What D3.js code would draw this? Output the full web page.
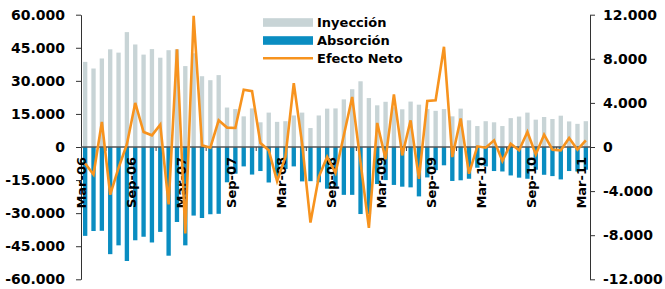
<!DOCTYPE html>
<html><head><meta charset="utf-8">
<script src="https://cdn.jsdelivr.net/npm/d3@7"></script>
<style>body{margin:0;background:#fff}svg{display:block}</style>
</head><body>
<svg id="chart" width="665" height="289"></svg>
<script>
const months = [
 "Mar-06","Abr-06","May-06","Jun-06","Jul-06","Ago-06","Sep-06","Oct-06","Nov-06","Dic-06","Ene-07","Feb-07",
 "Mar-07","Abr-07","May-07","Jun-07","Jul-07","Ago-07","Sep-07","Oct-07","Nov-07","Dic-07","Ene-08","Feb-08",
 "Mar-08","Abr-08","May-08","Jun-08","Jul-08","Ago-08","Sep-08","Oct-08","Nov-08","Dic-08","Ene-09","Feb-09",
 "Mar-09","Abr-09","May-09","Jun-09","Jul-09","Ago-09","Sep-09","Oct-09","Nov-09","Dic-09","Ene-10","Feb-10",
 "Mar-10","Abr-10","May-10","Jun-10","Jul-10","Ago-10","Sep-10","Oct-10","Nov-10","Dic-10","Ene-11","Feb-11",
 "Mar-11"];
const inyeccion = [
 38600,35600,40150,44300,42800,52100,46500,41900,44400,40500,43900,44300,
 36700,42500,32100,30300,32600,17900,17200,13900,17500,11200,15600,11400,
 11700,14300,15600,8600,14300,17400,17500,21600,26200,29800,22200,18900,
 20500,18000,17100,20600,19200,17200,16400,17200,13900,17400,12100,9500,
 11700,11200,9500,13100,13800,15600,12400,13600,12700,14200,11600,10500,
 11700];
const absorcion = [
 -40300,-38100,-38000,-48600,-44600,-51700,-42300,-40700,-43300,-38500,-49300,-34000,
 -44600,-31100,-32200,-30500,-30300,-16000,-12100,-8800,-12500,-10900,-16100,-14000,
 -10000,-8800,-15600,-15500,-16000,-18900,-18000,-21700,-21700,-30400,-30400,-16800,
 -15000,-17200,-18000,-18300,-22400,-13800,-10500,-8300,-15400,-15100,-14400,-9400,
 -8800,-10900,-11100,-12900,-13900,-14400,-10300,-12600,-13200,-14700,-10900,-11100,
 -10300];
const efectoNeto = [
 -1500,-2500,2270,-4330,-1900,250,4000,1360,1060,2030,-5200,8850,
 -7850,11900,150,-60,2420,1760,1730,5200,5060,360,-300,-3100,
 -900,5800,300,-6850,-2700,-900,-2350,1060,4540,-1400,-7330,2180,
 -1100,4760,-760,2420,-2880,4180,4240,9090,-910,2580,-2420,60,
 -60,600,-1270,300,-300,1360,-670,1120,-240,-300,820,-240,
 600];
const xTickLabels = ["Mar-06","Sep-06","Mar-07","Sep-07","Mar-08","Sep-08","Mar-09","Sep-09","Mar-10","Sep-10","Mar-11"];
const leftTicks = [60000,45000,30000,15000,0,-15000,-30000,-45000,-60000];
const rightTicks = [12000,8000,4000,0,-4000,-8000,-12000];
const seriesNames = ["Inyección","Absorción","Efecto Neto"];

const colGrey = "#c8d4d6", colBlue = "#0a8dc1", colOrange = "#f7931e";
const font = "'DejaVu Sans', Verdana, sans-serif";

const svg = d3.select("#chart");
const x = d3.scaleBand().domain(months).range([81, 590]).paddingInner(0.48).paddingOuter(0.24);
const yL = d3.scaleLinear().domain([-60000, 60000]).range([279.3, 14.7]);
const yR = d3.scaleLinear().domain([-12000, 12000]).range([279.3, 14.7]);
const bw = x.bandwidth();
const loc = d3.formatLocale({decimal: ",", thousands: ".", grouping: [3], currency: ["", ""], minus: "-"});
const fmt = loc.format(",");

// bars
svg.append("g").selectAll("rect").data(months).join("rect")
  .attr("x", (d) => x(d)).attr("width", bw)
  .attr("y", (d, i) => yL(inyeccion[i])).attr("height", (d, i) => yL(0) - yL(inyeccion[i]))
  .attr("fill", colGrey);
svg.append("g").selectAll("rect").data(months).join("rect")
  .attr("x", (d) => x(d)).attr("width", bw)
  .attr("y", yL(0)).attr("height", (d, i) => yL(absorcion[i]) - yL(0))
  .attr("fill", colBlue);

// left axis
const gL = svg.append("g").attr("transform", "translate(81,0)")
  .call(d3.axisLeft(yL).tickValues(leftTicks).tickSize(5).tickSizeOuter(0).tickPadding(11).tickFormat(fmt));
// right axis
const gR = svg.append("g").attr("transform", "translate(590,0)")
  .call(d3.axisRight(yR).tickValues(rightTicks).tickSize(5).tickSizeOuter(0).tickPadding(8).tickFormat(fmt));
[gL, gR].forEach(g => {
  g.select(".domain").attr("stroke", "#333").attr("stroke-width", 1);
  g.selectAll(".tick line").attr("stroke", "#333");
  g.selectAll(".tick text").attr("fill", "#000").style("font-family", font)
    .style("font-weight", "bold").style("font-size", "14px");
});

// zero line
svg.append("line").attr("x1", 81).attr("x2", 590).attr("y1", yL(0)).attr("y2", yL(0))
  .attr("stroke", "#555").attr("stroke-width", 1.3);

// x ticks at boundaries
const gap = x.step() * x.paddingInner();
svg.append("g").selectAll("line").data(months.filter((d, i) => i % 6 === 3)).join("line")
  .attr("x1", d => x(d) - gap / 2).attr("x2", d => x(d) - gap / 2)
  .attr("y1", yL(0)).attr("y2", yL(0) + 4).attr("stroke", "#444").attr("stroke-width", 1);

// x labels
svg.append("g").selectAll("text").data(xTickLabels).join("text")
  .attr("transform", d => `translate(${x(d) + bw / 2 + 0.5},${yL(0) + 10}) rotate(-90)`)
  .attr("text-anchor", "end")
  .style("font-family", font).style("font-weight", "bold").style("font-size", "13px")
  .attr("fill", "#000").text(d => d);

// line
const line = d3.line().x((d, i) => x(months[i]) + bw / 2).y(d => yR(d));
svg.append("path").datum(efectoNeto).attr("d", line)
  .attr("fill", "none").attr("stroke", colOrange).attr("stroke-width", 2.6).attr("stroke-linejoin", "miter");

// legend
const lg = svg.append("g").attr("transform", "translate(263,0)");
const rows = [
  {name: seriesNames[0], y: 22.5, type: "rect", color: colGrey},
  {name: seriesNames[1], y: 40.5, type: "rect", color: colBlue},
  {name: seriesNames[2], y: 58.3, type: "line", color: colOrange}
];
rows.forEach(r => {
  if (r.type === "rect") {
    lg.append("rect").attr("x", 0).attr("y", r.y - 4.3).attr("width", 50).attr("height", 8.6).attr("fill", r.color);
  } else {
    lg.append("line").attr("x1", 0).attr("x2", 50).attr("y1", r.y).attr("y2", r.y)
      .attr("stroke", r.color).attr("stroke-width", 2.6);
  }
  lg.append("text").attr("x", 54).attr("y", r.y).attr("dy", "0.36em")
    .style("font-family", font).style("font-weight", "bold").style("font-size", "13px")
    .attr("fill", "#000").text(r.name);
});
</script>
</body></html>
